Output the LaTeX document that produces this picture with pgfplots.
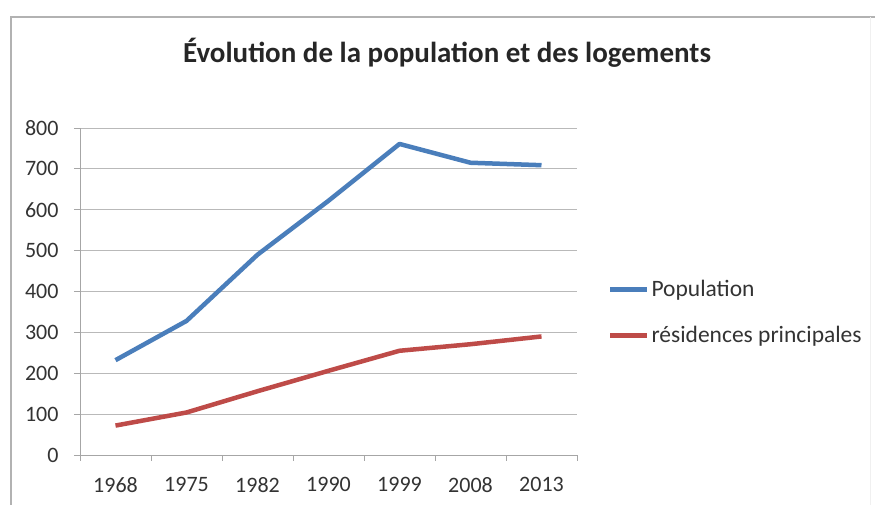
\documentclass[border=0pt]{standalone}
\usepackage{pgfplots}
\pgfplotsset{compat=1.18}
\usepackage{fontspec}
\setmainfont{Carlito}
\definecolor{popblue}{HTML}{4A7EBB}
\definecolor{resred}{HTML}{BE4B48}
\begin{document}
\begin{tikzpicture}[x=1pt,y=1pt]
\path[use as bounding box] (0,0) rectangle (875,505);
\draw[gray!60, line width=1.5pt] (11,0) -- (11,488) -- (875,488);
\draw[gray!12, line width=1pt] (870,488) -- (870,0);
\node[font=\fontsize{29}{32}\selectfont\bfseries, text=black!85] at (447,452) {Évolution de la population et des logements};
\begin{axis}[
 at={(80pt,50pt)}, anchor=south west,
 scale only axis, width=497pt, height=327pt,
 xmin=-0.5, xmax=6.5, ymin=0, ymax=800,
 ytick={0,100,...,800},
 xtick={-0.5,0.5,...,6.5},
 x tick label as interval,
 xticklabels={1968,1975,1982,1990,1999,2008,2013},
 axis lines*=left,
 axis line style={gray!70, line width=0.8pt},
 ymajorgrids, grid style={gray!55, line width=0.8pt},
 tick align=outside, major tick length=6pt,
 tick style={gray!70, line width=0.8pt},
 ticklabel style={font=\fontsize{22}{26}\selectfont, text=black!80},
 xticklabel style={yshift=-13pt},
 yticklabel style={xshift=-12pt},
 /pgf/number format/assume math mode=true,
 legend style={at={(1.062,0.436)}, anchor=west, draw=none, fill=none, font=\fontsize{23.5}{27}\selectfont, text=black!80, row sep=24pt, inner sep=0pt, legend cell align=left},
 legend image code/.code={\draw[#1] (0pt,0pt) -- (37pt,0pt);},
]
\addplot[popblue, line width=4.5pt, line join=round] coordinates {(0,232) (1,328) (2,490) (3,622) (4,761) (5,715) (6,709)};
\addlegendentry{Population}
\addplot[resred, line width=4.5pt, line join=round] coordinates {(0,72) (1,104) (2,156) (3,206) (4,255) (5,271) (6,290)};
\addlegendentry{résidences principales}
\end{axis}
\end{tikzpicture}
\end{document}
